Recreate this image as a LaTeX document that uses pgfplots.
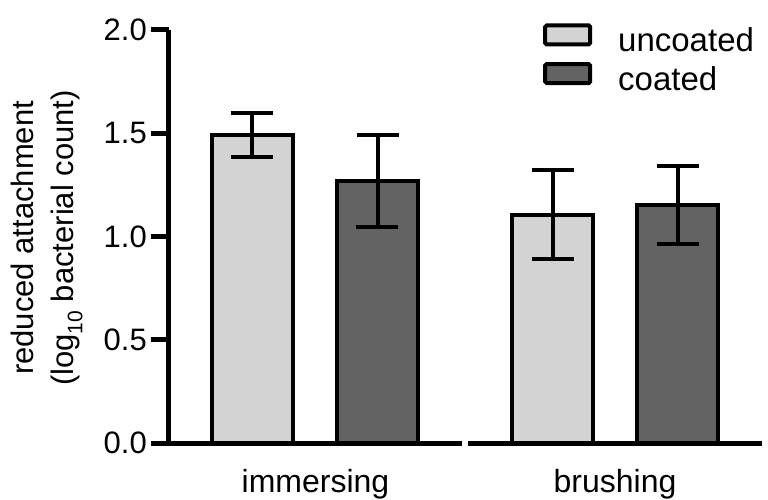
\documentclass[border=0pt]{standalone}
\usepackage{pgfplots}
\pgfplotsset{compat=1.18}
\usepackage{fontspec}
\setmainfont{Liberation Sans}
\definecolor{lightbar}{HTML}{D3D3D3}
\definecolor{darkbar}{HTML}{636363}
\newcommand{\bigf}{\fontsize{31}{37}\selectfont}
\begin{document}
\begin{tikzpicture}
\begin{axis}[
  x=1pt, y=206.5pt,
  xmin=169, xmax=762, ymin=0, ymax=2,
  axis y line=left, axis x line*=bottom,
  x axis line style={draw=none},
  y axis line style={-, line width=5pt, black},
  ytick={0,0.5,1,1.5,2},
  ytick style={line width=5pt, black},
  tick align=outside, major tick length=18pt,
  xtick={315.5,615}, xticklabels={immersing,brushing},
  xtick style={draw=none},
  tick label style={font=\bigf},
  /pgf/number format/assume math mode=true,
  yticklabel style={/pgf/number format/fixed, /pgf/number format/fixed zerofill, /pgf/number format/precision=1, inner sep=0pt, xshift=-4pt},
  xticklabel style={anchor=base, inner sep=0pt, yshift=-31pt, font=\fontsize{32}{38}\selectfont},
  ylabel={reduced attachment\\(log\raisebox{-0.28em}{\fontsize{21}{21}\selectfont 10} bacterial count)},
  ylabel style={align=center, font=\fontsize{31}{40}\selectfont, at={(axis description cs:-0.2664,0.4965)}, anchor=north, inner sep=0pt},
  legend style={draw=none, fill=none, at={(axis cs:543,2.033)}, anchor=north west, inner sep=0pt, font=\fontsize{33}{39}\selectfont, row sep=9pt, nodes={inner sep=0pt}, /tikz/every odd column/.append style={column sep=26pt}},
  legend cell align=left,
  clip=false,
]
\addplot[ybar, bar width=81, bar shift=0pt, fill=lightbar, draw=black, line width=4pt,
  legend image code/.code={\draw[fill=lightbar, draw=black, line width=4pt, rounded corners=1.5pt] (2pt,-4pt) rectangle (47pt,15pt);},
  error bars/.cd, y dir=both, y explicit,
  error bar style={line width=4pt, black},
  error mark options={rotate=90, mark size=21pt, line width=4pt, black}]
  coordinates {(252.5,1.491) +- (0,0.107)};
\addlegendentry{uncoated}
\addplot[ybar, bar width=81, bar shift=0pt, fill=darkbar, draw=black, line width=4pt,
  legend image code/.code={\draw[fill=darkbar, draw=black, line width=4pt, rounded corners=1.5pt] (2pt,-4pt) rectangle (47pt,15pt);},
  error bars/.cd, y dir=both, y explicit,
  error bar style={line width=4pt, black},
  error mark options={rotate=90, mark size=21pt, line width=4pt, black}]
  coordinates {(377.5,1.270) +- (0,0.223)};
\addlegendentry{coated}
\addplot[ybar, bar width=81, bar shift=0pt, fill=lightbar, draw=black, line width=4pt, forget plot,
  error bars/.cd, y dir=both, y explicit,
  error bar style={line width=4pt, black},
  error mark options={rotate=90, mark size=21pt, line width=4pt, black}]
  coordinates {(552.5,1.105) +- (0,0.215)};
\addplot[ybar, bar width=81, bar shift=0pt, fill=darkbar, draw=black, line width=4pt, forget plot,
  error bars/.cd, y dir=both, y explicit,
  error bar style={line width=4pt, black},
  error mark options={rotate=90, mark size=21pt, line width=4pt, black}]
  coordinates {(677.5,1.152) +- (0,0.187)};
\addplot[black, line width=5pt, forget plot] coordinates {(169,0) (462,0)};
\addplot[black, line width=5pt, forget plot] coordinates {(468,0) (762,0)};
\coordinate (bbbl) at (axis cs:0,-0.2712);
\coordinate (bbtr) at (axis cs:768,2.1453);
\end{axis}
\pgfresetboundingbox
\path[use as bounding box] (bbbl) rectangle (bbtr);
\end{tikzpicture}
\end{document}
